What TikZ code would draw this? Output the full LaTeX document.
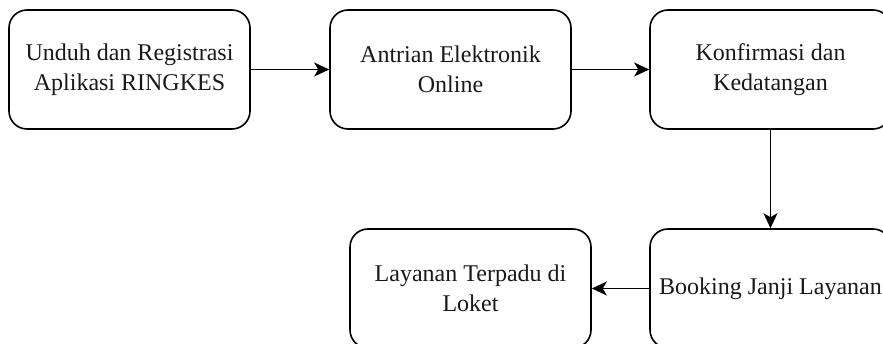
\documentclass[tikz,border=0pt]{standalone}
\usepackage{fontspec}
\setmainfont{Liberation Serif}
\usetikzlibrary{arrows.meta}

\tikzset{
    stepbox/.style={draw, line width=1.6pt, rounded corners=18pt, minimum width=241pt, minimum height=119pt,
        inner sep=0pt, align=center, text=black!90, font=\fontsize{24}{30}\selectfont},
    flow/.style={-{Stealth[length=15pt, width=14pt, inset=4pt]}, line width=1.6pt}
}

\begin{document}
\begin{tikzpicture}[x=1pt, y=-1pt]
    \useasboundingbox (0,0) rectangle (883,344);
    % upper row
    \node[stepbox] (unduh) at (129.5,69.5) {Unduh dan Registrasi\\Aplikasi RINGKES};
    \node[stepbox] (antrian) at (450.5,69.5) {Antrian Elektronik\\Online};
    \node[stepbox] (konfirmasi) at (770.5,69.5) {Konfirmasi dan\\Kedatangan};
    % lower row
    \node[stepbox] (booking) at (770.5,288.5) {Booking Janji Layanan};
    \node[stepbox] (loket) at (470.5,288.5) {Layanan Terpadu di\\Loket};

    \foreach \a/\b in {unduh/antrian, antrian/konfirmasi, konfirmasi/booking, booking/loket} {
        \draw[flow] (\a) -- (\b);
    }
\end{tikzpicture}
\end{document}
